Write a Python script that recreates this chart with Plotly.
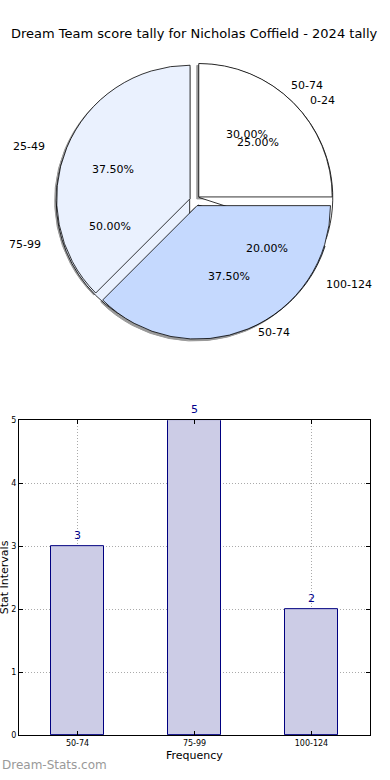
import numpy as np
import plotly.graph_objects as go

# ---------------- data ----------------
title_text = "Dream Team score tally for Nicholas Coffield - 2024 tally"

pie1_labels = ["50-74", "75-99", "100-124"]
pie1_values = [3, 5, 2]

pie2_labels = ["0-24", "25-49", "50-74"]
pie2_values = [2, 3, 3]

bar_categories = ["50-74", "75-99", "100-124"]
bar_values = [3, 5, 2]
y_ticks = [0, 1, 2, 3, 4, 5]

# ---------------- style ----------------
W, H = 390, 780
FONT = "DejaVu Sans"
slice_colors = ["#ffffff", "#eaf1fe", "#c5d9fe"]
bar_fill = "#ccccE6"
bar_edge = "#000080"

# pie geometry (pixels)
cx, cy = 195, 199
r_px = 135
pull = 0.04
half = r_px * (1 + pull)


def px_dom(x0, x1, y0, y1):
    return dict(x=[x0 / W, x1 / W], y=[1 - y1 / H, 1 - y0 / H])


pie_dom = px_dom(cx - half, cx + half, cy - half, cy + half)
shadow_dom = px_dom(cx - half - 2, cx + half - 2, cy - half + 2, cy + half + 2)

fig = go.Figure()

common = dict(sort=False, direction="counterclockwise", rotation=0,
              textinfo="none", hoverinfo="label+percent", showlegend=False,
              pull=[pull] * 3)

# shadow
fig.add_trace(go.Pie(labels=pie2_labels, values=pie2_values, domain=shadow_dom,
                     marker=dict(colors=["#9a9a9a"] * 3, line=dict(color="#9a9a9a", width=1)),
                     **common))
# first (underlying) pie
fig.add_trace(go.Pie(labels=pie1_labels, values=pie1_values, domain=pie_dom,
                     marker=dict(colors=slice_colors, line=dict(color="#000000", width=0.8)),
                     **common))
# second (top) pie
fig.add_trace(go.Pie(labels=pie2_labels, values=pie2_values, domain=pie_dom,
                     marker=dict(colors=slice_colors, line=dict(color="#000000", width=0.8)),
                     **common))

annotations = []

# label / percent text positions derived from values
LRX, LRY = 160, 144
PRX, PRY = 89, 83
for labels, values in [(pie1_labels, pie1_values), (pie2_labels, pie2_values)]:
    vals = np.array(values, dtype=float)
    frac = vals / vals.sum()
    mids = (np.cumsum(frac) - frac / 2) * 2 * np.pi
    for lab, f, a in zip(labels, frac, mids):
        c, s = np.cos(a), np.sin(a)
        lx, ly = cx + LRX * c, cy - LRY * s
        annotations.append(dict(x=lx / W, y=1 - ly / H, xref="paper", yref="paper",
                                text=lab, showarrow=False,
                                xanchor="left" if c > 0 else "right", yanchor="middle",
                                font=dict(family=FONT, size=11, color="#000000")))
        pxp, pyp = cx + PRX * c, cy - PRY * s
        annotations.append(dict(x=pxp / W, y=1 - pyp / H, xref="paper", yref="paper",
                                text="%.2f%%" % (f * 100), showarrow=False,
                                xanchor="center", yanchor="middle",
                                font=dict(family=FONT, size=11, color="#000000")))

# bar chart
fig.add_trace(go.Bar(x=bar_categories, y=bar_values, width=0.45,
                     marker=dict(color=bar_fill, line=dict(color=bar_edge, width=1)),
                     hoverinfo="x+y", showlegend=False, xaxis="x", yaxis="y"))

for cat, v in zip(bar_categories, bar_values):
    annotations.append(dict(x=cat, y=v, xref="x", yref="y", text=str(v),
                            showarrow=False, xanchor="center", yanchor="bottom",
                            yshift=2,
                            font=dict(family=FONT, size=11, color="#00008b")))

# titles & labels
annotations.append(dict(x=194.5 / W, y=1 - 30 / H, xref="paper", yref="paper",
                        text=title_text, showarrow=False, xanchor="center", yanchor="middle",
                        font=dict(family=FONT, size=13, color="#000000")))
annotations.append(dict(x=4 / W, y=1 - 580 / H, xref="paper", yref="paper",
                        text="Stat Intervals", textangle=-90, showarrow=False,
                        xanchor="center", yanchor="middle",
                        font=dict(family=FONT, size=11, color="#000000")))
annotations.append(dict(x=194 / W, y=1 - 760 / H, xref="paper", yref="paper",
                        text="Frequency", showarrow=False, xanchor="center", yanchor="middle",
                        font=dict(family=FONT, size=11, color="#000000")))
annotations.append(dict(x=0, y=1 - 770 / H, xref="paper", yref="paper",
                        text="Dream-Stats.com", showarrow=False, xanchor="left",
                        yanchor="middle",
                        font=dict(family=FONT, size=12, color="#999999")))

axis_common = dict(showline=True, linecolor="#000000", linewidth=1, mirror="allticks",
                   ticks="inside", ticklen=4, tickcolor="#000000",
                   showgrid=True, gridcolor="#aaaaaa", griddash="1px,2px", gridwidth=1,
                   zeroline=False, tickfont=dict(family=FONT, size=8, color="#000000"))

fig.update_layout(
    width=W, height=H,
    margin=dict(l=0, r=0, t=0, b=0),
    paper_bgcolor="#ffffff", plot_bgcolor="#ffffff",
    xaxis=dict(domain=[19 / W, 370 / W], anchor="y", range=[-0.5, 2.5],
               type="category", **axis_common),
    yaxis=dict(domain=[40 / H, 359 / H], anchor="x", range=[0, 5],
               tickvals=y_ticks, **axis_common),
    annotations=annotations,
    bargap=0,
)

fig.write_html("out.html",
               config={"displayModeBar": False},
               post_script="document.body.style.margin='0';"
                           "document.body.style.padding='0';"
                           "document.documentElement.style.overflow='hidden';"
                           "var gd=document.getElementById('{plot_id}');"
                           "gd.style.position='absolute';gd.style.top='0px';gd.style.left='0px';")
